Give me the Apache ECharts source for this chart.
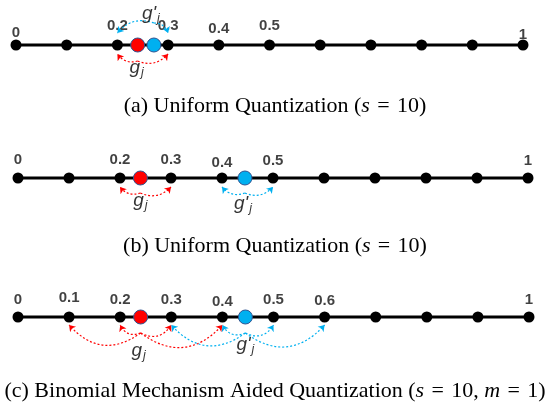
<!DOCTYPE html>
<html><head><meta charset="utf-8">
<script src="https://cdn.jsdelivr.net/npm/echarts@6/dist/echarts.min.js"></script>
<style>html,body{margin:0;padding:0;background:#fff}#c{width:550px;height:407px}</style>
</head><body><div id="c"></div>
<script>
// ---- data ----
const ticks = [0, 0.1, 0.2, 0.3, 0.4, 0.5, 0.6, 0.7, 0.8, 0.9, 1];
const labelsA = [0, 0.2, 0.3, 0.4, 0.5, 1];
const labelsB = [0, 0.2, 0.3, 0.4, 0.5, 1];
const labelsC = [0, 0.1, 0.2, 0.3, 0.4, 0.5, 0.6, 1];
const gradRed = [0.24, 0.24, 0.24];       // g_j per panel
const gradBlue = [0.272, 0.445, 0.445];   // g'_j per panel
const redTargetsA = [0.2, 0.3];
const blueTargetsA = [0.2, 0.3];
const redTargetsB = [0.2, 0.3];
const blueTargetsB = [0.4, 0.5];
const redTargetsC = [0.1, 0.2, 0.3, 0.4];
const blueTargetsC = [0.3, 0.4, 0.5, 0.6];
const captions = [
  '(a) Uniform Quantization ({i|s}\u200A = \u200A10)',
  '(b) Uniform Quantization ({i|s}\u200A = \u200A10)',
  '(c) Binomial Mechanism Aided Quantization ({i|s}\u200A = \u200A10, {i|m}\u200A = \u200A1)'
];

// ---- layout / style ----
const lineY = [45, 178, 317];
const gridLeft = [16, 18, 18];
const gridWidth = [507, 510, 511];
// height (px) of each tick label's centre above the axis line
const labelLiftA = [12, 19, 19, 16, 19, 10];
const labelLiftB = [18, 18, 18, 15.5, 17, 17];
const labelLiftC = [17.5, 19, 17, 17, 15, 17, 16, 17];
const RED = '#FF0000', BLUE = '#00B0F0', EDGE = '#2F528F';
const panels = [
  {labels: labelsA, lift: labelLiftA, red: redTargetsA, blue: blueTargetsA, blueUp: true,
   redOff: [-16, -9], blueOff: [22, 12], k: 0.35,
   gOff: [-1, 23], gpOff: [-3, -31]},
  {labels: labelsB, lift: labelLiftB, red: redTargetsB, blue: blueTargetsB, blueUp: false,
   redOff: [-15, -9], blueOff: [-15, -9], k: 0.35,
   gOff: [0, 23], gpOff: [-2, 26]},
  {labels: labelsC, lift: labelLiftC, red: redTargetsC, blue: blueTargetsC, blueUp: false,
   redOff: [-16, -8], blueOff: [-16, -8], k: 0.45,
   gOff: [-2, 34], gpOff: [0, 28]}
];

const grid = [], xAxis = [], yAxis = [], series = [], title = [];
const fmt = v => String(v);

function arcs(origin, targets, off, up, k) {
  return targets.map(t => {
    const s = t < origin ? -1 : 1;
    const c = (up ? 1 : -1) * s * k;
    return {coords: [[origin, off[0]], [t, off[1]]], lineStyle: {curveness: c}};
  });
}

panels.forEach((p, i) => {
  grid.push({left: gridLeft[i], width: gridWidth[i], top: lineY[i] - 45, height: 90});
  xAxis.push({gridIndex: i, type: 'value', min: 0, max: 1, show: false});
  yAxis.push({gridIndex: i, type: 'value', min: -45, max: 45, show: false});
  const ax = {xAxisIndex: i, yAxisIndex: i};
  // main line + tick dots
  series.push(Object.assign({
    type: 'line', data: ticks.map(t => [t, 0]), symbol: 'circle', symbolSize: 11,
    showSymbol: true, itemStyle: {color: '#000'}, lineStyle: {color: '#000', width: 3},
    silent: true, animation: false, z: 3
  }, ax));
  // tick labels
  series.push(Object.assign({
    type: 'scatter',
    data: p.labels.map((t, j) => ({value: [t, 0], label: {distance: p.lift[j] - 8}})),
    symbolSize: 1,
    itemStyle: {color: 'rgba(0,0,0,0)'},
    label: {show: true, position: 'top',
      formatter: q => fmt(q.value[0]),
      fontFamily: 'Liberation Sans', fontWeight: 'bold', fontSize: 15, color: '#111'},
    silent: true, animation: false, z: 4
  }, ax));
  // arrows
  series.push(Object.assign({
    type: 'lines', coordinateSystem: 'cartesian2d',
    data: arcs(gradRed[i], p.red, p.redOff, false, p.k),
    symbol: ['none', 'arrow'], symbolSize: 6,
    lineStyle: {color: RED, width: 1.2, type: [2, 2], opacity: 1},
    silent: true, animation: false, z: 5
  }, ax));
  series.push(Object.assign({
    type: 'lines', coordinateSystem: 'cartesian2d',
    data: arcs(gradBlue[i], p.blue, p.blueOff, p.blueUp, p.k),
    symbol: ['none', 'arrow'], symbolSize: 6,
    lineStyle: {color: BLUE, width: 1.2, type: [2, 2], opacity: 1},
    silent: true, animation: false, z: 5
  }, ax));
  // gradient points
  series.push(Object.assign({
    type: 'scatter', data: [[gradRed[i], 0]], symbolSize: 14,
    itemStyle: {color: RED, borderColor: EDGE, borderWidth: 1, opacity: 1},
    silent: true, animation: false, z: 6
  }, ax));
  series.push(Object.assign({
    type: 'scatter', data: [[gradBlue[i], 0]], symbolSize: 14,
    itemStyle: {color: BLUE, borderColor: EDGE, borderWidth: 1, opacity: 1},
    silent: true, animation: false, z: 6
  }, ax));
  // g labels
  const rich = {
    g: {fontFamily: 'Liberation Sans', fontStyle: 'italic', fontSize: 19, color: '#000'},
    s: {fontFamily: 'Liberation Sans', fontStyle: 'italic', fontSize: 12.5, color: '#000', padding: [10, 0, 0, 1]}
  };
  series.push(Object.assign({
    type: 'scatter', data: [[gradRed[i], 0]], symbolSize: 1, itemStyle: {color: 'rgba(0,0,0,0)'},
    label: {show: true, position: 'inside', offset: p.gOff, formatter: '{g|g}{s|j}', rich: rich},
    silent: true, animation: false, z: 7
  }, ax));
  series.push(Object.assign({
    type: 'scatter', data: [[gradBlue[i], 0]], symbolSize: 1, itemStyle: {color: 'rgba(0,0,0,0)'},
    label: {show: true, position: 'inside', offset: p.gpOff, formatter: "{g|g'}{s|j}", rich: rich},
    silent: true, animation: false, z: 7
  }, ax));
});

const capTop = [95, 235, 380];
captions.forEach((c, i) => {
  title.push({
    text: c, left: 'center', top: capTop[i], padding: 0,
    textStyle: {fontFamily: 'Liberation Serif', fontSize: 22, fontWeight: 'normal', color: '#000',
      rich: {i: {fontFamily: 'Liberation Serif', fontSize: 22, fontStyle: 'italic', color: '#000'}}}
  });
});

const chart = echarts.init(document.getElementById('c'), null, {renderer: 'canvas'});
chart.setOption({animation: false, title, grid, xAxis, yAxis, series});
</script></body></html>
